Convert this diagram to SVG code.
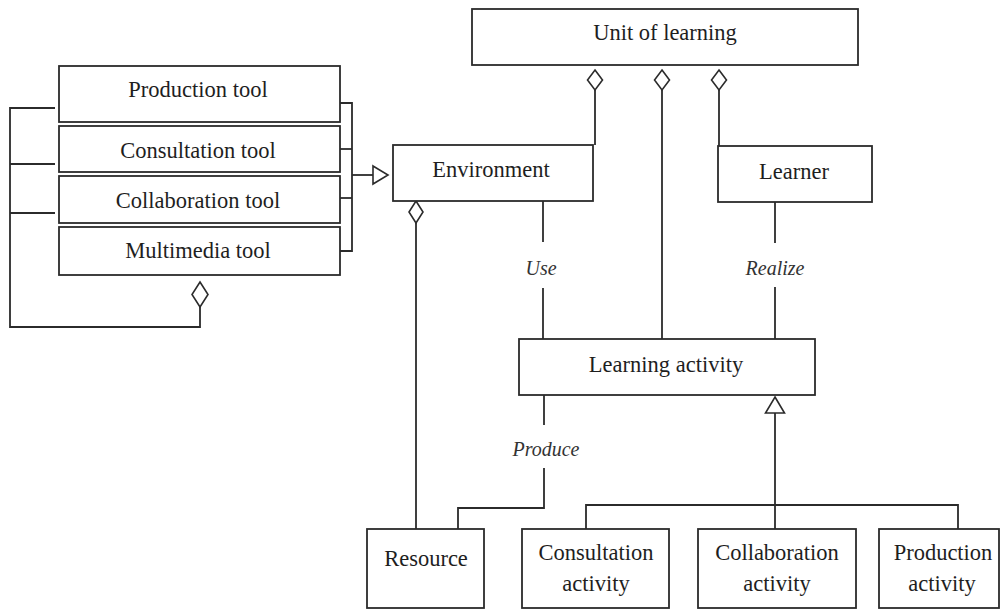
<svg xmlns="http://www.w3.org/2000/svg" width="1000" height="610" viewBox="0 0 1000 610">
<style>
.box{fill:#fff;stroke:#2b2b2b;stroke-width:1.8}
.ln{fill:none;stroke:#2b2b2b;stroke-width:1.8}
.dm{fill:#fff;stroke:#2b2b2b;stroke-width:1.6}
text.t{font-size:22.5px;fill:#1e1e1e;text-anchor:middle;dominant-baseline:central}
text.lb{font-size:20px;font-style:italic;fill:#333;text-anchor:middle;dominant-baseline:central}
</style>
<rect width="1000" height="610" fill="#fff"/>
<g font-family="'Liberation Serif', 'DejaVu Serif', serif">
<g id="connectors">
  <polyline class="ln" points="55,108 10,108 10,327 200,327 200,307"/>
  <line class="ln" x1="10" y1="164" x2="55" y2="164"/>
  <line class="ln" x1="10" y1="213" x2="55" y2="213"/>
  <polygon class="dm" points="200,282 208,294.5 200,307 192,294.5"/>
  <polyline class="ln" points="340,103 352,103 352,251 340,251"/>
  <line class="ln" x1="340" y1="149" x2="352" y2="149"/>
  <line class="ln" x1="340" y1="198" x2="352" y2="198"/>
  <line class="ln" x1="352" y1="175" x2="373" y2="175"/>
  <polygon class="dm" points="373,166 388,175 373,184"/>
  <line class="ln" x1="595" y1="90" x2="595" y2="145"/>
  <line class="ln" x1="662" y1="90" x2="662" y2="339"/>
  <line class="ln" x1="719" y1="90" x2="719" y2="146"/>
  <polygon class="dm" points="595,70 602.5,80 595,90 587.5,80"/>
  <polygon class="dm" points="662,70 669.5,80 662,90 654.5,80"/>
  <polygon class="dm" points="719,70 726.5,80 719,90 711.5,80"/>
  <line class="ln" x1="416" y1="223" x2="416" y2="529"/>
  <polygon class="dm" points="416,201 423,212 416,223 409,212"/>
  <line class="ln" x1="543" y1="201" x2="543" y2="242"/>
  <line class="ln" x1="543" y1="288" x2="543" y2="339"/>
  <text class="lb" x="541" y="268">Use</text>
  <line class="ln" x1="775" y1="202" x2="775" y2="243"/>
  <line class="ln" x1="775" y1="287" x2="775" y2="339"/>
  <text class="lb" x="775" y="268">Realize</text>
  <line class="ln" x1="544" y1="395" x2="544" y2="425"/>
  <polyline class="ln" points="544,468 544,508 458,508 458,529"/>
  <text class="lb" x="546" y="449">Produce</text>
  <line class="ln" x1="775" y1="413" x2="775" y2="529"/>
  <polygon class="dm" points="775,397 784.5,413 765.5,413"/>
  <polyline class="ln" points="586,529 586,505 958,505 958,529"/>
</g>
<g id="production-tool"><rect class="box" x="59" y="66" width="281" height="56"/><text class="t" x="198" y="89">Production tool</text></g>
<g id="consultation-tool"><rect class="box" x="59" y="126" width="281" height="46"/><text class="t" x="198" y="150">Consultation tool</text></g>
<g id="collaboration-tool"><rect class="box" x="59" y="176" width="281" height="47"/><text class="t" x="198" y="200">Collaboration tool</text></g>
<g id="multimedia-tool"><rect class="box" x="59" y="227" width="281" height="48"/><text class="t" x="198" y="250">Multimedia tool</text></g>
<g id="unit-of-learning"><rect class="box" x="472" y="9" width="386" height="56"/><text class="t" x="665" y="32">Unit of learning</text></g>
<g id="environment"><rect class="box" x="393" y="145" width="200" height="56"/><text class="t" x="491" y="169">Environment</text></g>
<g id="learner"><rect class="box" x="718" y="146" width="154" height="56"/><text class="t" x="794" y="171">Learner</text></g>
<g id="learning-activity"><rect class="box" x="519" y="339" width="296" height="56"/><text class="t" x="666" y="364">Learning activity</text></g>
<g id="resource"><rect class="box" x="367" y="529" width="117" height="79"/><text class="t" x="426" y="558">Resource</text></g>
<g id="consultation-activity"><rect class="box" x="522" y="529" width="147" height="79"/><text class="t" x="596" y="552">Consultation</text><text class="t" x="596" y="583">activity</text></g>
<g id="collaboration-activity"><rect class="box" x="698" y="529" width="158" height="79"/><text class="t" x="777" y="552">Collaboration</text><text class="t" x="777" y="583">activity</text></g>
<g id="production-activity"><rect class="box" x="879" y="529" width="120" height="79"/><text class="t" x="943" y="552">Production</text><text class="t" x="942" y="583">activity</text></g>
</g>
</svg>
